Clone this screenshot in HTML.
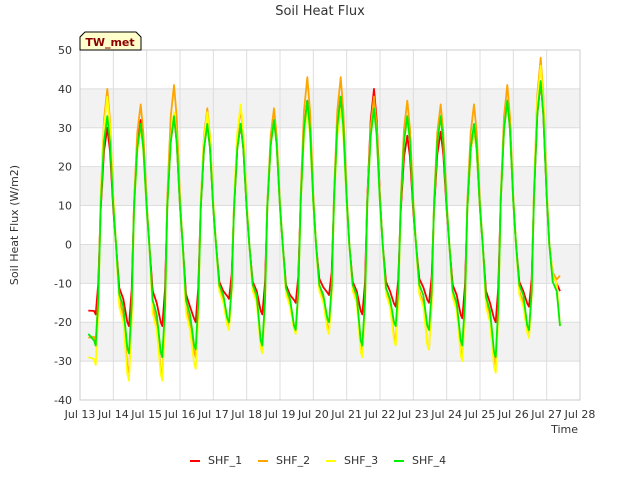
<!DOCTYPE html>
<html><head><meta charset="utf-8"><style>
body{margin:0;background:#fff;font-family:"Liberation Sans","DejaVu Sans",sans-serif}
svg text{font-family:"DejaVu Sans","Liberation Sans",sans-serif}
</style></head><body>
<svg id="chart" width="640" height="480" xmlns="http://www.w3.org/2000/svg">
<text x="320" y="15" text-anchor="middle" font-size="13" fill="#333">Soil Heat Flux</text>
<g id="grid"></g>
<g id="series"></g>
<g id="axes"></g>
<text transform="translate(18,225) rotate(-90)" text-anchor="middle" font-size="11" fill="#333">Soil Heat Flux (W/m2)</text>
<text x="578" y="433" text-anchor="end" font-size="11" fill="#333">Time</text>
<g>
<path d="M80,50 L80,37 L85,32 L136,32 L141,37 L141,50 Z" fill="#ffffcc" stroke="#000" stroke-width="1"/>
<text x="110" y="46" text-anchor="middle" font-size="11" font-weight="bold" fill="#8b0000">TW_met</text>
</g>
<g id="legend"></g>
</svg>
<script>
const days = [13,14,15,16,17,18,19,20,21,22,23,24,25,26];
const tickLabels = ["Jul 13","Jul 14","Jul 15","Jul 16","Jul 17","Jul 18","Jul 19","Jul 20","Jul 21","Jul 22","Jul 23","Jul 24","Jul 25","Jul 26","Jul 27","Jul 28"];
const yTicks = [-40,-30,-20,-10,0,10,20,30,40,50];
const seriesNames = ["SHF_1","SHF_2","SHF_3","SHF_4"];
const seriesColors = ["#ff0000","#ffa500","#ffff00","#00ee00"];
const startVals = [-17,-24,-29,-23];
const endVals = [-12,-8,-21,-21];
const troughs1 = [-18,-21,-21,-20,-14,-18,-15,-13,-18,-16,-15,-19,-20,-16];
const troughs2 = [-25,-33,-34,-29,-21,-27,-22,-22,-27,-25,-27,-29,-31,-23];
const troughs3 = [-31,-35,-35,-32,-22,-28,-23,-23,-29,-26,-27,-30,-33,-24];
const troughs4 = [-26,-28,-29,-27,-20,-26,-22,-20,-26,-21,-22,-26,-29,-22];
const peaks1 = [30,32,33,31,31,32,37,38,40,28,29,30,37,42];
const peaks2 = [40,36,41,35,35,35,43,43,38,37,36,36,41,48];
const peaks3 = [38,30,34,34,36,32,35,35,35,33,33,30,37,46];
const peaks4 = [33,31,33,31,31,32,37,38,35,33,33,31,37,42];
const evening1 = [-14,-15,-16,-12,-12,-13,-11,-12,-12,-11,-13,-15,-12,-10];
const evening2 = [-18,-20,-20,-14,-14,-15,-14,-14,-15,-15,-16,-18,-15,-9];
const evening3 = [-20,-22,-22,-15,-15,-16,-15,-15,-16,-16,-17,-20,-16,-10];
const evening4 = [-16,-18,-18,-13,-13,-14,-13,-13,-14,-13,-15,-17,-13,-12];
const troughs=[troughs1,troughs2,troughs3,troughs4], peaks=[peaks1,peaks2,peaks3,peaks4], evenings=[evening1,evening2,evening3,evening4];

const X0=80,X1=580,Y0=50,Y1=400;
const xs=t=>X0+(t-13)/15*(X1-X0);
const ys=v=>Y1-(v+40)/90*(Y1-Y0);
const NS="http://www.w3.org/2000/svg";
function mk(tag,attrs,parent){const e=document.createElementNS(NS,tag);for(const k in attrs)e.setAttribute(k,attrs[k]);parent.appendChild(e);return e;}
const grid=document.getElementById('grid'),axes=document.getElementById('axes'),ser=document.getElementById('series'),leg=document.getElementById('legend');
mk('rect',{x:X0,y:Y0,width:X1-X0,height:Y1-Y0,fill:'#fff'},grid);
for(let i=0;i<yTicks.length-1;i++){
  if(i%2===1){const r=mk('rect',{x:X0,y:ys(yTicks[i+1]),width:X1-X0,height:ys(yTicks[i])-ys(yTicks[i+1]),fill:'#f2f2f2'},grid);
  
  }
}
yTicks.forEach(v=>{
  mk('line',{x1:X0,x2:X1,y1:ys(v),y2:ys(v),stroke:'#ddd','stroke-width':1},grid);
  const t=mk('text',{x:X0-8,y:ys(v)+4,'text-anchor':'end','font-size':11,fill:'#333'},axes);t.textContent=v;
  
  
});
tickLabels.forEach((l,i)=>{
  mk('line',{x1:xs(13+i),x2:xs(13+i),y1:Y0,y2:Y1,stroke:'#ddd','stroke-width':1},grid);
  const t=mk('text',{x:xs(13+i),y:Y1+18,'text-anchor':'middle','font-size':11,fill:'#333'},axes);t.textContent=l;
  
  
});
mk('rect',{x:X0,y:Y0,width:X1-X0,height:Y1-Y0,fill:'none',stroke:'#ccc'},axes);

for(let s=0;s<4;s++){
  const pts=[[13.25,startVals[s]]];
  days.forEach((d,i)=>{
    const tr=troughs[s][i],pk=peaks[s][i],ev=evenings[s][i];
    pts.push([d+0.42,tr*0.95]);
    pts.push([d+0.47,tr]);
    pts.push([d+0.55,tr*0.55]);
    pts.push([d+0.62,pk*0.3]);
    pts.push([d+0.72,pk*0.8]);
    pts.push([d+0.82,pk]);
    pts.push([d+0.9,pk*0.8]);
    pts.push([d+1.0,pk*0.3]);
    pts.push([d+1.08,0]);
    pts.push([d+1.18,ev*0.8]);
    pts.push([d+1.3,ev]);
  });
  pts.push([27.4,endVals[s]]);
  const keep=pts.filter(p=>p[0]<=27.4);
  const p=mk('polyline',{points:keep.map(q=>xs(q[0]).toFixed(1)+','+ys(q[1]).toFixed(1)).join(' '),fill:'none',stroke:seriesColors[s],'stroke-width':1.8,'stroke-linejoin':'round'},ser);
  
  
}
const lx=[190,258,326,394];
seriesNames.forEach((n,i)=>{
  const g=mk('g',{},leg);
  
  
  mk('line',{x1:lx[i],x2:lx[i]+10,y1:461,y2:461,stroke:seriesColors[i],'stroke-width':2},g);
  const t=mk('text',{x:lx[i]+18,y:464,'font-size':11,fill:'#333'},g);t.textContent=n;
});
</script>
</body></html>
